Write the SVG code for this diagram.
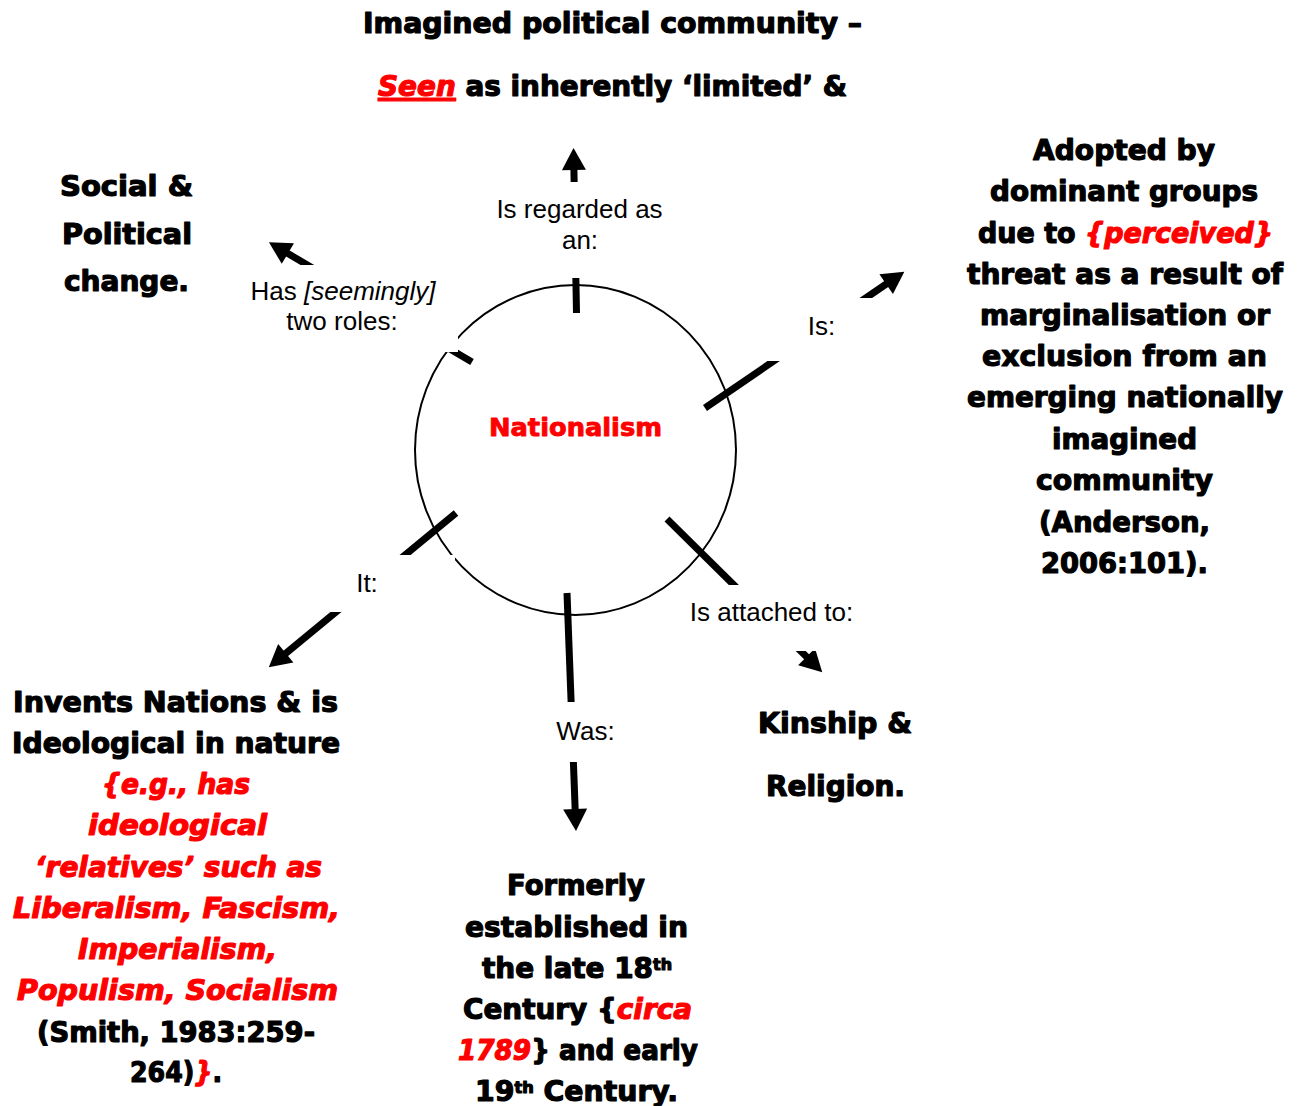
<svg xmlns="http://www.w3.org/2000/svg" width="1302" height="1106" viewBox="0 0 1302 1106">
  <style>
    .b { font-family: "DejaVu Sans", "Liberation Sans", sans-serif; font-weight: bold; font-size: 28px; fill: #000; stroke: #000; stroke-width: 1.2; stroke-linejoin: round; }
    .r { fill: #ff0000; stroke: #ff0000; font-style: italic; }
    .u { text-decoration: underline; }
    .sup { font-size: 16px; }
    .core { font-family: "DejaVu Sans", "Liberation Sans", sans-serif; font-weight: bold; font-size: 25px; fill: #ff0000; stroke: #ff0000; stroke-width: 0.9; stroke-linejoin: round; }
    .lab { font-family: "Liberation Sans", Arial, sans-serif; font-size: 26px; fill: #000; text-anchor: middle; }
    .shaft { stroke: #000; stroke-width: 7; fill: none; marker-end: url(#head); }
    .mask { fill: #fff; }
  </style>
  <defs>
    <marker id="head" markerUnits="userSpaceOnUse" markerWidth="24" markerHeight="24" refX="1" refY="12" orient="auto" overflow="visible">
      <path d="M0,0 L22,12 L0,24 z" fill="#000"/>
    </marker>
  </defs>

  <rect width="1302" height="1106" fill="#fff"/>

  <!-- central node -->
  <g id="node-nationalism">
    <ellipse cx="575.5" cy="450" rx="160.5" ry="165" fill="none" stroke="#000" stroke-width="2"/>
  </g>

  <!-- connectors: thick arrows broken by their white label boxes -->
  <g id="connectors">
    <line class="shaft" x1="576.5" y1="313" x2="573.9" y2="169"/>
    <line class="shaft" x1="472" y1="362" x2="287" y2="253"/>
    <line class="shaft" x1="705" y1="408" x2="887" y2="283.5"/>
    <line class="shaft" x1="667" y1="519" x2="807.3" y2="657.5"/>
    <line class="shaft" x1="567" y1="593" x2="575.2" y2="810"/>
    <line class="shaft" x1="456" y1="513" x2="285" y2="654"/>

    <g id="label-regarded">
      <rect class="mask" x="480" y="182" width="200" height="96"/>
      <text class="lab" x="579.5" y="218">Is regarded as</text>
      <text class="lab" x="580" y="249">an:</text>
    </g>
    <g id="label-roles">
      <rect class="mask" x="240" y="265" width="218" height="87"/>
      <text class="lab" x="343" y="300">Has <tspan font-style="italic">[seemingly]</tspan></text>
      <text class="lab" x="342" y="330">two roles:</text>
    </g>
    <g id="label-is">
      <rect class="mask" x="760" y="298" width="130" height="63"/>
      <text class="lab" x="821.5" y="335">Is:</text>
    </g>
    <g id="label-attached">
      <rect class="mask" x="680" y="585" width="190" height="66"/>
      <text class="lab" x="771.5" y="621">Is attached to:</text>
    </g>
    <g id="label-was">
      <rect class="mask" x="530" y="702" width="110" height="60"/>
      <text class="lab" x="585.5" y="740">Was:</text>
    </g>
    <g id="label-it">
      <rect class="mask" x="320" y="555" width="135" height="57"/>
      <text class="lab" x="367" y="592">It:</text>
    </g>
  </g>

  <g id="node-nationalism-label">
    <text class="core" x="489" y="436" textLength="173" lengthAdjust="spacingAndGlyphs">Nationalism</text>
  </g>

  <g id="node-imagined">
    <text class="b" x="363" y="33" textLength="499" lengthAdjust="spacingAndGlyphs">Imagined political community –</text>
    <text class="b" x="378" y="96" textLength="469" lengthAdjust="spacingAndGlyphs"><tspan class="r u">Seen</tspan> as inherently ‘limited’ &amp;</text>
  </g>

  <g id="node-change">
    <text class="b" x="60" y="196" textLength="133" lengthAdjust="spacingAndGlyphs">Social &amp;</text>
    <text class="b" x="62" y="244" textLength="130" lengthAdjust="spacingAndGlyphs">Political</text>
    <text class="b" x="64" y="291" textLength="125" lengthAdjust="spacingAndGlyphs">change.</text>
  </g>

  <g id="node-adopted">
    <text class="b" x="1033" y="160" textLength="182" lengthAdjust="spacingAndGlyphs">Adopted by</text>
    <text class="b" x="990" y="201.3" textLength="268" lengthAdjust="spacingAndGlyphs">dominant groups</text>
    <text class="b" x="978" y="242.6" textLength="295" lengthAdjust="spacingAndGlyphs">due to <tspan class="r">{perceived}</tspan></text>
    <text class="b" x="967" y="284" textLength="316" lengthAdjust="spacingAndGlyphs">threat as a result of</text>
    <text class="b" x="980" y="325" textLength="290" lengthAdjust="spacingAndGlyphs">marginalisation or</text>
    <text class="b" x="982" y="366" textLength="285" lengthAdjust="spacingAndGlyphs">exclusion from an</text>
    <text class="b" x="967" y="407.3" textLength="316" lengthAdjust="spacingAndGlyphs">emerging nationally</text>
    <text class="b" x="1052" y="448.6" textLength="145" lengthAdjust="spacingAndGlyphs">imagined</text>
    <text class="b" x="1036" y="490" textLength="177" lengthAdjust="spacingAndGlyphs">community</text>
    <text class="b" x="1039" y="531.6" textLength="171" lengthAdjust="spacingAndGlyphs">(Anderson,</text>
    <text class="b" x="1041" y="573" textLength="167" lengthAdjust="spacingAndGlyphs">2006:101).</text>
  </g>

  <g id="node-invents">
    <text class="b" x="13" y="712" textLength="325" lengthAdjust="spacingAndGlyphs">Invents Nations &amp; is</text>
    <text class="b" x="12" y="753" textLength="328" lengthAdjust="spacingAndGlyphs">Ideological in nature</text>
    <text class="b r" x="102" y="794" textLength="148" lengthAdjust="spacingAndGlyphs">{e.g., has</text>
    <text class="b r" x="88" y="835" textLength="179" lengthAdjust="spacingAndGlyphs">ideological</text>
    <text class="b r" x="35" y="876.5" textLength="287" lengthAdjust="spacingAndGlyphs">‘relatives’ such as</text>
    <text class="b r" x="13" y="918" textLength="327" lengthAdjust="spacingAndGlyphs">Liberalism, Fascism,</text>
    <text class="b r" x="78" y="959" textLength="199" lengthAdjust="spacingAndGlyphs">Imperialism,</text>
    <text class="b r" x="17" y="1000" textLength="321" lengthAdjust="spacingAndGlyphs">Populism, Socialism</text>
    <text class="b" x="37" y="1041.5" textLength="278" lengthAdjust="spacingAndGlyphs">(Smith, 1983:259-</text>
    <text class="b" x="130" y="1082" textLength="92" lengthAdjust="spacingAndGlyphs">264)<tspan class="r">}</tspan>.</text>
  </g>

  <g id="node-formerly">
    <text class="b" x="507" y="895" textLength="138" lengthAdjust="spacingAndGlyphs">Formerly</text>
    <text class="b" x="465" y="936.5" textLength="223" lengthAdjust="spacingAndGlyphs">established in</text>
    <text class="b" x="482" y="978" textLength="190" lengthAdjust="spacingAndGlyphs">the late 18<tspan class="sup" dy="-8">th</tspan></text>
    <text class="b" x="463" y="1019" textLength="229" lengthAdjust="spacingAndGlyphs">Century {<tspan class="r">circa</tspan></text>
    <text class="b" x="458" y="1060" textLength="240" lengthAdjust="spacingAndGlyphs"><tspan class="r">1789</tspan>} and early</text>
    <text class="b" x="475" y="1100.5" textLength="203" lengthAdjust="spacingAndGlyphs">19<tspan class="sup" dy="-8">th</tspan><tspan dy="8"> Century.</tspan></text>
  </g>

  <g id="node-kinship">
    <text class="b" x="758" y="733" textLength="154" lengthAdjust="spacingAndGlyphs">Kinship &amp;</text>
    <text class="b" x="766" y="796" textLength="139" lengthAdjust="spacingAndGlyphs">Religion.</text>
  </g>
</svg>
